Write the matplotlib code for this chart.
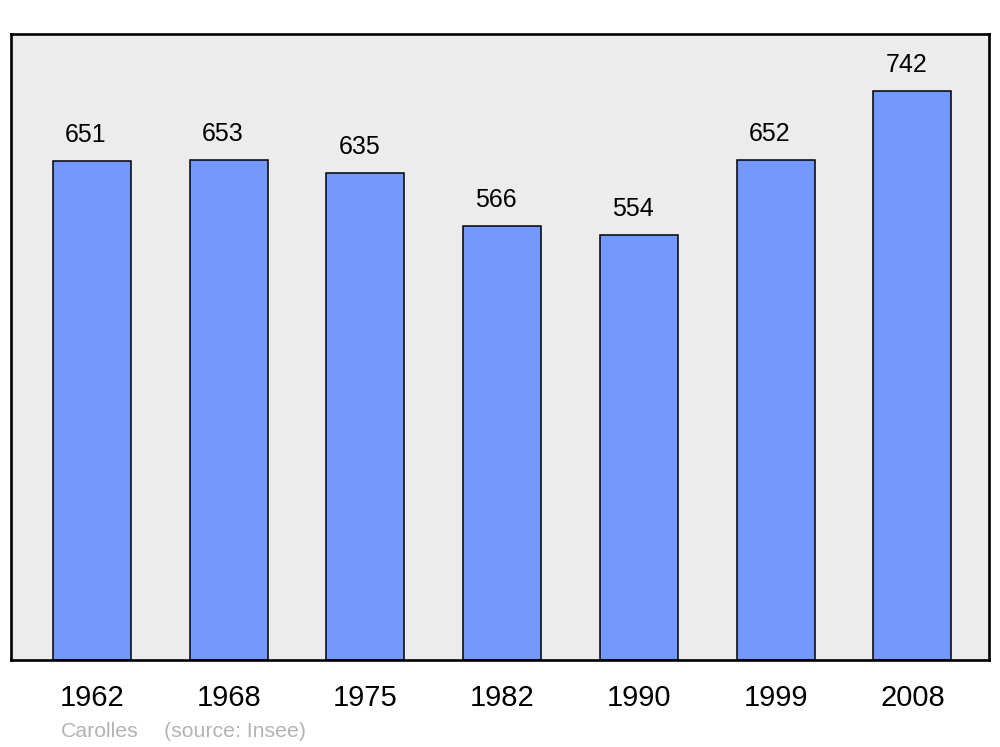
import matplotlib.pyplot as plt

plt.rcParams['font.family'] = ['Liberation Sans', 'DejaVu Sans']

years = ["1962", "1968", "1975", "1982", "1990", "1999", "2008"]
population = [651, 653, 635, 566, 554, 652, 742]
commune = "Carolles"
source = "(source: Insee)"

fig = plt.figure(figsize=(10, 7.47), dpi=100)
ax = fig.add_axes([0.011, 0.1165, 0.978, 0.838])
ax.set_facecolor("#ececec")

pos = list(range(len(years)))
ax.bar(pos, population, width=0.57, color="#7399ff", edgecolor="black",
       linewidth=1.1, zorder=2)

# value labels above bars
for x, v in zip(pos, population):
    ax.annotate(str(v), (x, v), xytext=(-4.3, 13.7), textcoords="offset points",
                ha="center", va="baseline", fontsize=18)

ax.set_xlim(-0.592, 6.56)
ax.set_ylim(0, 817)
ax.set_xticks(pos)
ax.set_xticklabels(years, fontsize=21)
ax.tick_params(axis="x", length=0, pad=17)
ax.set_yticks([])
for s in ax.spines.values():
    s.set_linewidth(1.9)

fig.text(0.061, 0.021, commune, fontsize=15.3, color="#b3b3b3", va="center")
fig.text(0.164, 0.021, source, fontsize=15.3, color="#b3b3b3", va="center")

fig.savefig("out.png", dpi=100)
